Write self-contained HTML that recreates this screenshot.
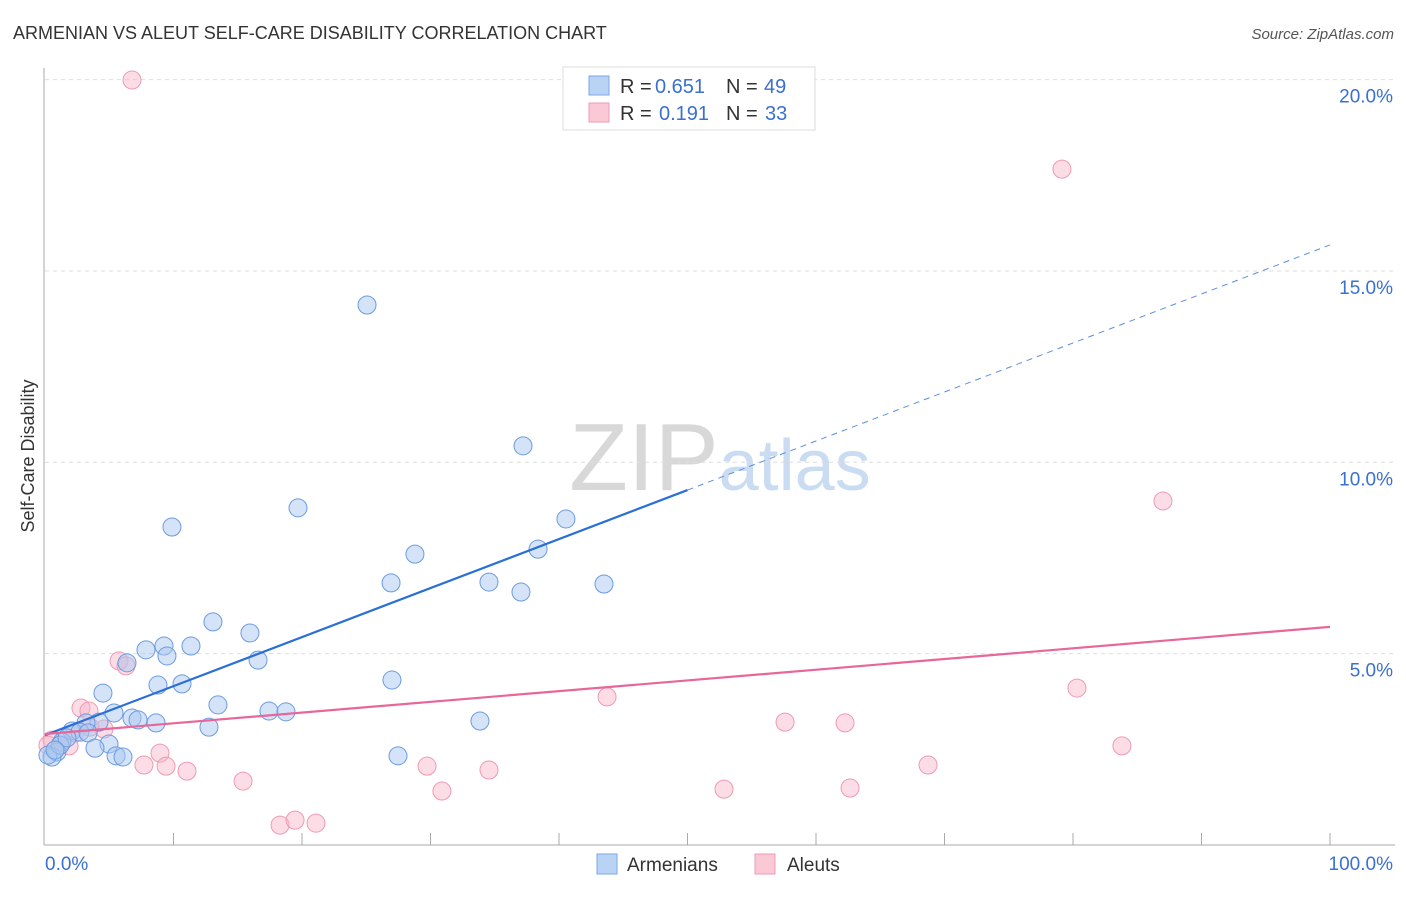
<!DOCTYPE html>
<html><head><meta charset="utf-8"><style>
body{margin:0;background:#fff;font-family:"Liberation Sans",sans-serif;}
svg text{font-family:"Liberation Sans",sans-serif;}
</style></head><body>
<svg id="chart" width="1406" height="892" viewBox="0 0 1406 892" xmlns="http://www.w3.org/2000/svg">
<text x="13" y="39" font-size="18" fill="#333">ARMENIAN VS ALEUT SELF-CARE DISABILITY CORRELATION CHART</text>
<text x="1394" y="39" font-size="15" fill="#555" font-style="italic" text-anchor="end">Source: ZipAtlas.com</text>
<text x="720" y="490" font-size="96" text-anchor="middle" fill="#ddd" font-family="Liberation Serif"><tspan fill="#d8d8d8">ZIP</tspan><tspan fill="#c9dcf2" font-family="Liberation Sans" font-size="72">atlas</tspan></text>
<g id="grid"></g>
<g id="axes"></g>
<g id="pts"></g>
<g id="trends"></g>
<text transform="translate(34,456) rotate(-90)" font-size="18" fill="#333" text-anchor="middle">Self-Care Disability</text>
<g font-size="20">
<rect x="563" y="67" width="252" height="63" fill="#fff" stroke="#ddd"/>
<rect x="589" y="76" width="20" height="19" fill="#b9d3f5" stroke="#7aa7e6"/>
<rect x="589" y="103" width="20" height="19" fill="#fbc8d6" stroke="#ef9bb4"/>
<text x="620" y="93" fill="#333">R =</text><text x="655" y="93" fill="#3a70cf">0.651</text>
<text x="726" y="93" fill="#333">N =</text><text x="764" y="93" fill="#3a70cf">49</text>
<text x="620" y="120" fill="#333">R =</text><text x="659" y="120" fill="#3a70cf">0.191</text>
<text x="726" y="120" fill="#333">N =</text><text x="765" y="120" fill="#3a70cf">33</text>
</g>
<g>
<rect x="597" y="854" width="20" height="20" fill="#b9d3f5" stroke="#7aa7e6"/>
<text x="627" y="871" font-size="19" fill="#333">Armenians</text>
<rect x="755" y="854" width="20" height="20" fill="#fbc8d6" stroke="#ef9bb4"/>
<text x="787" y="871" font-size="19" fill="#333">Aleuts</text>
</g>
</svg>
<script>
const armX=[25.06,37.2,19.69,9.88,40.54,38.37,28.79,26.93,34.55,37.04,43.5,13.07,15.95,7.86,9.26,11.36,9.49,16.58,6.38,8.79,10.66,4.51,27.0,13.46,17.43,18.75,5.37,6.77,7.24,8.64,4.2,12.76,33.85,3.19,2.1,2.72,3.35,4.98,1.32,3.89,0.93,5.53,6.07,27.47,0.54,0.23,1.17,1.71,0.78];
const armY=[14.11,10.43,8.81,8.31,8.52,7.73,7.6,6.85,6.87,6.61,6.82,5.83,5.54,5.1,5.2,5.2,4.94,4.83,4.76,4.18,4.21,3.97,4.31,3.66,3.5,3.48,3.45,3.32,3.27,3.19,3.21,3.08,3.24,3.19,2.98,2.95,2.93,2.64,2.69,2.53,2.43,2.33,2.3,2.33,2.3,2.35,2.61,2.8,2.48];
const aleX=[6.77,79.14,87.0,5.76,6.3,80.31,43.74,2.8,3.42,57.59,62.26,4.59,83.81,8.95,0.54,1.87,7.7,9.42,11.05,29.73,34.55,68.72,15.41,30.89,52.84,62.65,18.29,19.46,21.09,1.32,0.23,3.5,2.33];
const aleY=[19.99,17.66,8.99,4.81,4.68,4.1,3.87,3.58,3.5,3.21,3.19,3.03,2.59,2.4,2.74,2.59,2.09,2.06,1.93,2.06,1.96,2.09,1.67,1.41,1.46,1.49,0.52,0.65,0.57,2.69,2.61,3.08,2.93];
const yTicks=[5,10,15,20];
const yTickLabels=["5.0%","10.0%","15.0%","20.0%"];
const armTrend=[2.87,15.68];
const aleTrend=[2.9,5.7];
const NS="http://www.w3.org/2000/svg";
const sx=v=>45+v*12.85, sy=v=>845-v*38.27;
function mk(tag,attrs,parent){const e=document.createElementNS(NS,tag);for(const k in attrs)e.setAttribute(k,attrs[k]);parent.appendChild(e);return e;}
const grid=document.getElementById('grid'),axes=document.getElementById('axes'),pts=document.getElementById('pts'),tr=document.getElementById('trends');
yTicks.forEach((t,i)=>{
 const l=mk('line',{x1:45,x2:1395,y1:sy(t),y2:sy(t),stroke:'#ddd','stroke-dasharray':'4,4'},grid);
 
 
 const tx=mk('text',{x:1393,y:sy(t)+23,'font-size':19,fill:'#3a70cf','text-anchor':'end'},grid);
 tx.textContent=yTickLabels[i];
 
 
});
mk('line',{x1:44,x2:44,y1:68,y2:845,stroke:'#aaa'},axes);
mk('line',{x1:44,x2:1395,y1:845,y2:845,stroke:'#aaa'},axes);
for(let i=1;i<=10;i++){const t=mk('line',{x1:sx(i*10),x2:sx(i*10),y1:833,y2:845,stroke:'#aaa'},axes);
 
 }
const x0=mk('text',{x:45,y:870,'font-size':19,fill:'#3a70cf'},axes);x0.textContent='0.0%';


const x1=mk('text',{x:1393,y:870,'font-size':19,fill:'#3a70cf','text-anchor':'end'},axes);x1.textContent='100.0%';


aleX.forEach((x,i)=>{const c=mk('circle',{cx:sx(x),cy:sy(aleY[i]),r:9,fill:'rgba(248,180,200,0.45)',stroke:'#ee9ab3','stroke-width':1},pts);
 
 });
armX.forEach((x,i)=>{const c=mk('circle',{cx:sx(x),cy:sy(armY[i]),r:9,fill:'rgba(170,200,240,0.5)',stroke:'#6b9be0','stroke-width':1},pts);
 
 });
const ay=x=>armTrend[0]+(armTrend[1]-armTrend[0])*x/100;
const a1=mk('line',{x1:sx(0),y1:sy(ay(0)),x2:sx(50),y2:sy(ay(50)),stroke:'#2a6fd6','stroke-width':2.2},tr);


const a2=mk('line',{x1:sx(50),y1:sy(ay(50)),x2:sx(100),y2:sy(ay(100)),stroke:'#5b8fdc','stroke-width':1,'stroke-dasharray':'6,5'},tr);


const p1=mk('line',{x1:sx(0),y1:sy(aleTrend[0]),x2:sx(100),y2:sy(aleTrend[1]),stroke:'#e8679a','stroke-width':2.2},tr);


</script>
</body></html>
